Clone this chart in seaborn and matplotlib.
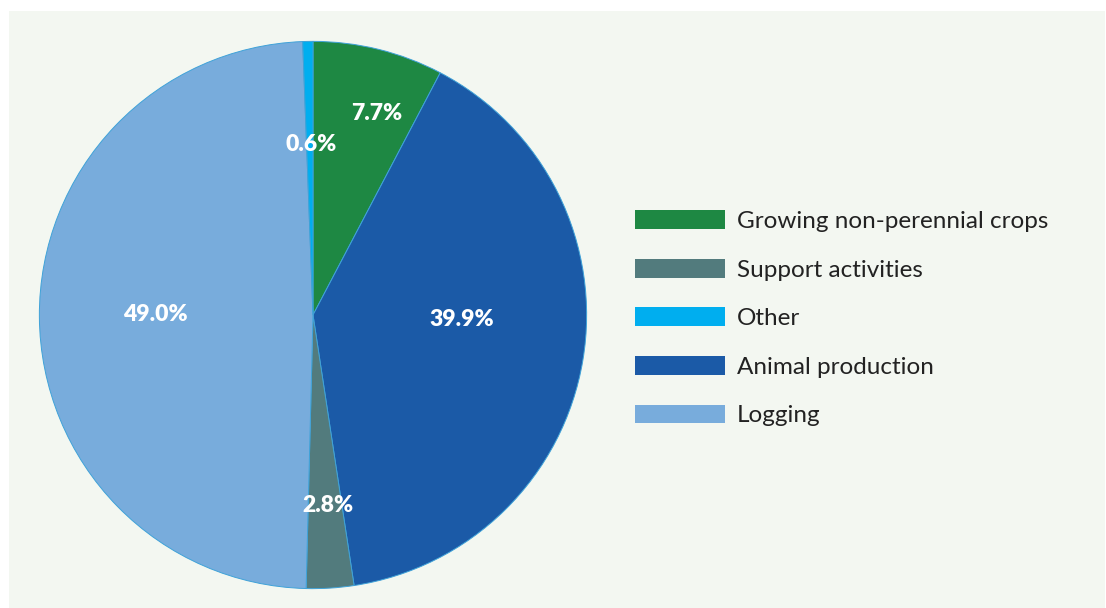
import matplotlib
matplotlib.use("Agg")
import matplotlib.pyplot as plt
from matplotlib.patches import Rectangle, Patch
import seaborn as sns

# Share of the sector by activity, in clockwise order from 12 o'clock
activities = ["Growing non-perennial crops", "Animal production",
              "Support activities", "Logging", "Other"]
shares = [7.7, 39.9, 2.8, 49.0, 0.6]
colors = ["#1e8843", "#1b5aa7", "#527b7d", "#78acdc", "#00aeef"]

# Legend order
legend_order = ["Growing non-perennial crops", "Support activities", "Other",
                "Animal production", "Logging"]

# Where each percentage label sits inside the unit pie
label_xy = [(0.233, 0.735), (0.542, -0.018), (0.055, -0.695),
            (-0.575, 0.0), (-0.007, 0.622)]

sns.set_theme(style="white")
plt.rcParams["font.family"] = ["Lato", "DejaVu Sans"]

W, H = 1106, 608
fig = plt.figure(figsize=(W / 100, H / 100), dpi=100, facecolor="white")

# Pale panel behind the chart
fig.patches.append(Rectangle((9 / W, 0), (1105 - 9) / W, (H - 11) / H,
                             transform=fig.transFigure, facecolor="#f3f7f1",
                             edgecolor="none", zorder=-5))

cx, cy, r = 313, 315, 275
ax = fig.add_axes([(cx - r) / W, (H - cy - r) / H, 2 * r / W, 2 * r / H])
ax.set_zorder(2)
ax.set_facecolor("none")

wedges, _ = ax.pie(shares, colors=colors, startangle=90, counterclock=False,
                   radius=1.0,
                   wedgeprops=dict(edgecolor="#3fa2d8", linewidth=0.7))
ax.set_xlim(-1.005, 1.005)
ax.set_ylim(-1.005, 1.005)
ax.set_aspect("equal")
ax.axis("off")

for share, (x, y) in zip(shares, label_xy):
    ax.text(x, y, f"{share:.1f}%", ha="center", va="center", color="white",
            fontsize=16.5, fontweight="heavy")

color_of = dict(zip(activities, colors))
handles = [Patch(facecolor=color_of[a], edgecolor="none") for a in legend_order]
leg = fig.legend(handles, legend_order, loc="upper left",
                 bbox_to_anchor=(635 / W, 1 - 210 / H), frameon=False,
                 fontsize=17.5, handlelength=3.7, handleheight=0.82,
                 handletextpad=0.49, labelspacing=1.10, labelcolor="#222222",
                 borderpad=0, borderaxespad=0)
leg.set_zorder(3)

fig.savefig("out.png", dpi=100, facecolor="white")
